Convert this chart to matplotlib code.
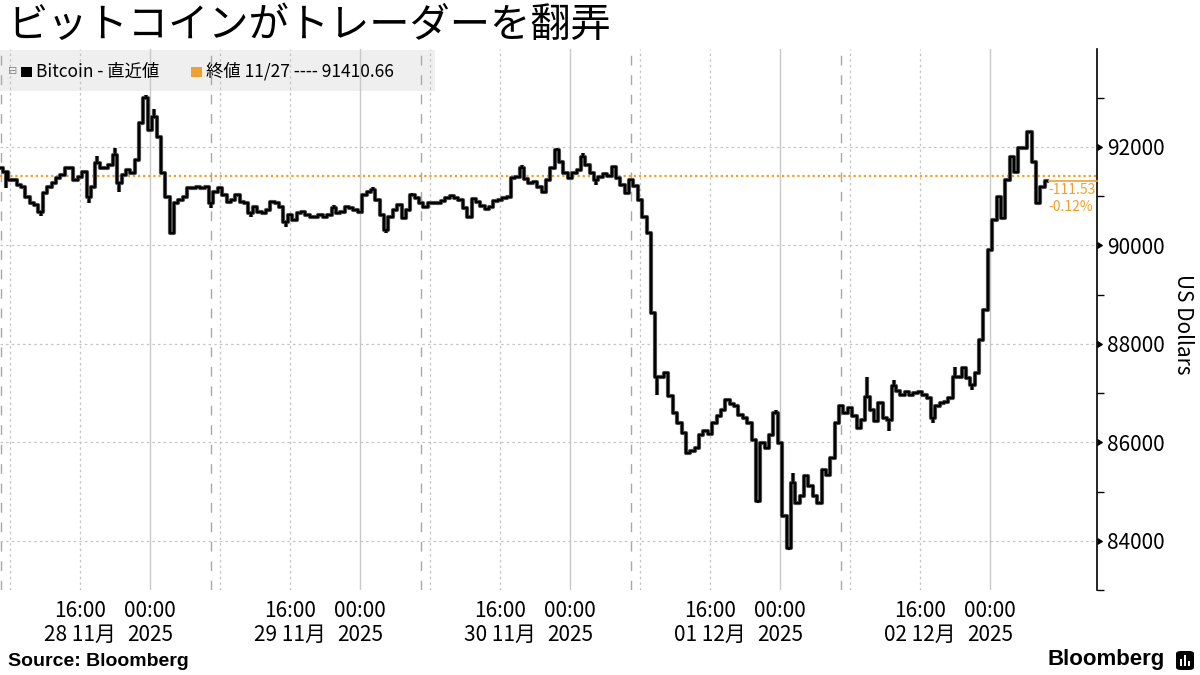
import matplotlib
matplotlib.use('Agg')
import matplotlib.pyplot as plt
import matplotlib.dates as mdates
import matplotlib.ticker as mticker
from matplotlib.patches import Rectangle, FancyBboxPatch
from matplotlib.lines import CARETRIGHTBASE
import pandas as pd

plt.rcParams['font.family'] = ['Noto Sans CJK JP', 'DejaVu Sans']

# ---------------- data ----------------
TITLE = 'ビットコインがトレーダーを翻弄'
SERIES_NAME = 'Bitcoin - 直近値'
REF_LABEL = '終値 11/27 ---- 91410.66'
REF_CLOSE = 91410.66
CHANGE_ABS = '-111.53'
CHANGE_PCT = '-0.12%'
START = '2025-11-28 07:00'
FREQ = '30min'

prices_nov28 = [91567, 91499, 91330, 91330, 91228, 91195, 90992, 90856, 90822, 90680,
                91059, 91195, 91262, 91364, 91432, 91567, 91567, 91330, 91398, 91499,
                90992, 91195, 91668, 91567, 91567, 91635, 91838, 91262, 91432, 91533,
                91465, 91736, 92481, 93000]
prices_nov29 = [92345, 92616, 92210, 91465, 90992, 90250, 90856, 90924, 90992, 91161,
                91161, 91195, 91161, 91195, 90856, 91093, 91161, 91026, 90890, 90924,
                91026, 90890, 90856, 90653, 90789, 90687, 90653, 90721, 90890, 90856,
                90789, 90484, 90619, 90518, 90653, 90687, 90619, 90585, 90585, 90619,
                90585, 90619, 90755, 90653, 90687, 90788, 90755, 90721]
prices_nov30 = [90687, 91025, 91093, 91127, 90924, 90619, 90315, 90585, 90721, 90822,
                90551, 90721, 91025, 90958, 90856, 90788, 90856, 90856, 90870, 90903,
                90958, 91005, 90958, 90924, 90755, 90572, 90944, 90890, 90802, 90734,
                90788, 90910, 90924, 90958, 90991, 91364, 91397, 91567, 91343, 91276,
                91296, 91194, 91093, 91330, 91567, 91939, 91702, 91465]
prices_dec01 = [91364, 91465, 91533, 91804, 91634, 91479, 91330, 91397, 91452, 91411,
                91587, 91364, 91228, 91059, 91330, 91208, 90924, 90585, 90247, 88623,
                87337, 87337, 87404, 86931, 86592, 86389, 86186, 85780, 85814, 85882,
                86152, 86220, 86173, 86389, 86525, 86660, 86850, 86782, 86728, 86558,
                86491, 86389, 86051, 84800, 85983, 85882, 86152, 86592]
prices_dec02 = [85983, 84494, 83850, 85171, 84765, 84900, 85306, 85103, 84900, 84765,
                85442, 85340, 85679, 86389, 86728, 86592, 86694, 86525, 86300, 86457,
                86930, 86660, 86423, 86795, 86491, 86457, 87134, 87052, 86964, 87032,
                86964, 86998, 87032, 86964, 86897, 86491, 86728, 86795, 86829, 86897,
                87337, 87337, 87506, 87303, 87167, 87404, 88081, 88690]
prices_dec03 = [89908, 90518, 90991, 90551, 91330, 91790, 91499, 91988, 91988, 92300,
                91702, 90856, 91194, 91299.13]

# intra-bar extremes (bar index, extreme price)
wick_index = [1, 9, 20, 22, 26, 27, 33, 35, 39, 48, 57, 65,
              76, 85, 88, 94, 107, 119, 124, 127, 133, 136,
              150, 173, 177, 180, 181, 188,
              198, 203, 204, 213, 218, 222, 235]
wick_value = [91160, 90600, 90856, 91817, 91987, 91093, 93056, 92765, 90233, 90755, 90585, 90383,
              90822, 91181, 90247, 91059, 90548, 91634, 91059, 91973, 91871, 91228,
              86965, 84765, 86660, 83817, 85374, 85442,
              87337, 86220, 87270, 86390, 87540, 87066, 92311]

day_labels = ['28 11月', '29 11月', '30 11月', '01 12月', '02 12月']
year_label = '2025'
y_ticks = [84000, 86000, 88000, 90000, 92000]

# ---------------- figure ----------------
prices = prices_nov28 + prices_nov29 + prices_nov30 + prices_dec01 + prices_dec02 + prices_dec03
times = pd.date_range(START, periods=len(prices), freq=FREQ)
tnum = mdates.date2num(times)

W, H = 1200, 675
fig = plt.figure(figsize=(12, 6.75), dpi=100)
ax = fig.add_axes([0.0, 1 - 590 / H, 1097 / W, (590 - 48.5) / H])

ORANGE = '#EFA130'
GRID = '#c4c4c4'

x0 = mdates.date2num(pd.Timestamp('2025-11-28 06:51:26'))
x1 = mdates.date2num(pd.Timestamp('2025-12-03 12:14'))
ax.set_xlim(x0, x1)
ax.set_ylim(83000, 94000)

# gridlines (only across the span that holds data)
for d in pd.date_range('2025-11-28', periods=7, freq='D'):
    for hh, style in [(8, 'dot'), (16, 'dot'), (24, 'solid')]:
        t = mdates.date2num(d + pd.Timedelta(hours=hh))
        if x0 < t <= tnum[-1]:
            if style == 'dot':
                ax.axvline(t, color=GRID, lw=0.9, ls=(0, (2, 2.5)), zorder=1)
            else:
                ax.axvline(t, color='#c8c8c8', lw=1.0, ls='-', zorder=1)
for d in pd.date_range('2025-11-28 07:00', periods=5, freq='D'):
    ax.axvline(mdates.date2num(d), color='#a8a8a8', lw=1.0, ls=(0, (7, 7)), zorder=1)
for yv in y_ticks:
    ax.axhline(yv, color=GRID, lw=0.9, ls=(0, (2, 2.5)), zorder=1)

# reference close line
ax.axhline(REF_CLOSE, color=ORANGE, lw=1.6, ls=(0, (1, 1.3)), zorder=2)

# price series
ax.step(tnum, prices, where='mid', color='#555555', lw=3.0, zorder=3)
wick_t = [tnum[i] for i in wick_index]
wick_base = [prices[i] for i in wick_index]
ax.vlines(wick_t, wick_base, wick_value, color='#555555', lw=3.0, zorder=3)
ax.step(tnum, prices, where='mid', color='black', lw=1.6, zorder=4)
ax.vlines(wick_t, wick_base, wick_value, color='black', lw=1.6, zorder=4)

# last price line to axis
last_t = tnum[-1]
ax.plot([last_t, x1], [prices[-1], prices[-1]], color=ORANGE, lw=1.2, zorder=3, clip_on=False)
ax.text(last_t + 0.006, prices[-1] - 172, CHANGE_ABS, color=ORANGE, fontsize=10,
        ha='left', va='center', zorder=5)
ax.text(last_t + 0.006, prices[-1] - 511, CHANGE_PCT, color=ORANGE, fontsize=10,
        ha='left', va='center', zorder=5)

# spines
for s in ['left', 'top', 'bottom']:
    ax.spines[s].set_visible(False)
ax.spines['right'].set_color('black')
ax.spines['right'].set_linewidth(1.2)

# y axis on right
ax.yaxis.tick_right()
ax.yaxis.set_major_locator(mticker.FixedLocator(y_ticks))
ax.yaxis.set_major_formatter(mticker.FuncFormatter(lambda v, p: f'{int(v)}'))
ax.yaxis.set_minor_locator(mticker.FixedLocator([83000, 85000, 87000, 89000, 91000, 93000]))
ax.tick_params(axis='y', which='major', right=True, left=False, length=4, pad=3.5,
               labelsize=15, colors='black')
ax.tick_params(axis='y', which='minor', right=True, left=False, length=5, width=1.0)
for t in ax.yaxis.get_major_ticks():
    t.tick2line.set_marker(CARETRIGHTBASE)
    t.tick2line.set_markersize(5)
    t.tick2line.set_markerfacecolor('black')
    t.tick2line.set_markeredgecolor('black')

# x ticks
tick_pos, tick_lab = [], []
for d, lab in zip(pd.date_range('2025-11-28 16:00', periods=5, freq='D'), day_labels):
    tick_pos += [mdates.date2num(d), mdates.date2num(d + pd.Timedelta(hours=8))]
    tick_lab += [f'16:00\n{lab}', f'00:00\n{year_label}']
ax.set_xticks(tick_pos)
ax.set_xticklabels(tick_lab, linespacing=1.15)
ax.tick_params(axis='x', length=0, pad=7, labelsize=15)

# right-side axis title
fig.text(1183 / W, 1 - 324 / H, 'US Dollars', rotation=270, ha='center', va='center', fontsize=15)

# legend band
ax.add_patch(Rectangle((0, 1 - 91 / H), 435 / W, 41 / H, transform=fig.transFigure,
                       facecolor='#efefef', edgecolor='none', zorder=0.5, clip_on=False))
fig.text(13 / W, 1 - 71.5 / H, '⊟', family='DejaVu Sans', fontsize=8, color='#888888',
         ha='center', va='center')
fig.patches.append(Rectangle((20.5 / W, 1 - 77 / H), 11 / W, 10 / H, transform=fig.transFigure,
                             facecolor='black', edgecolor='none'))
fig.text(36 / W, 1 - 71.5 / H, SERIES_NAME, fontsize=12.5, ha='left', va='center')
fig.patches.append(Rectangle((191 / W, 1 - 77 / H), 11 / W, 10 / H, transform=fig.transFigure,
                             facecolor=ORANGE, edgecolor='none'))
fig.text(206 / W, 1 - 71.5 / H, REF_LABEL, fontsize=12.5, ha='left', va='center')

# title
fig.text(7 / W, 1 - 25 / H, TITLE, fontsize=29, ha='left', va='center')

# footer
fig.text(8 / W, 1 - 662 / H, 'Source: Bloomberg', family=['Liberation Sans', 'DejaVu Sans'],
         fontweight='bold', fontsize=14, ha='left', va='center')
fig.text(1165 / W, 1 - 660 / H, 'Bloomberg', family=['Liberation Sans', 'DejaVu Sans'],
         fontweight='bold', fontsize=16, ha='right', va='center')
fig.patches.append(FancyBboxPatch((1176 / W, 1 - 670 / H), 18 / W, 19 / H,
                                  boxstyle='round,pad=0.0,rounding_size=0.004',
                                  transform=fig.transFigure, facecolor='black', edgecolor='none'))
for bx, bh in [(1180, 7), (1184, 11), (1188, 5)]:
    fig.patches.append(Rectangle((bx / W, 1 - 666 / H), 2.2 / W, bh / H, transform=fig.transFigure,
                                 facecolor='white', edgecolor='none'))

fig.savefig('out.png', dpi=100)
